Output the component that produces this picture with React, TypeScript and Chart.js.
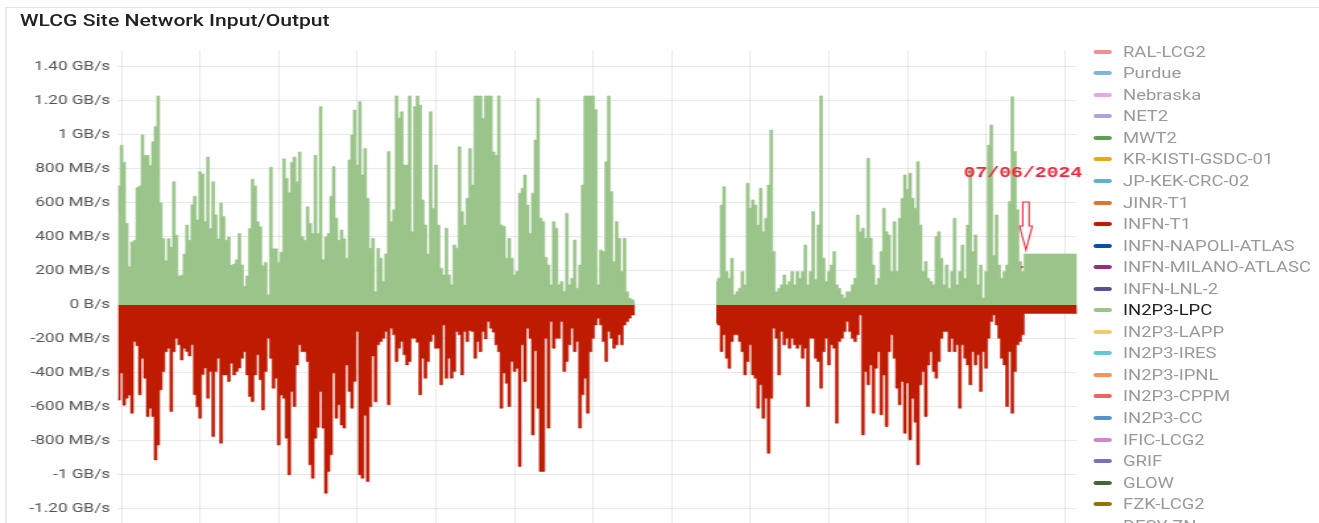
import React, { useEffect, useRef } from 'react';
import { Chart, registerables } from 'chart.js';

Chart.register(...registerables);

// ---------- layout constants (unstretched coordinates; the panel is stretched horizontally) ----------
const STRETCH = 1.319;
const BASE_W = 1000;
const BASE_H = 600;

// ---------- legend ----------
const SITE_NAMES = [
  'RAL-LCG2', 'Purdue', 'Nebraska', 'NET2', 'MWT2', 'KR-KISTI-GSDC-01', 'JP-KEK-CRC-02', 'JINR-T1',
  'INFN-T1', 'INFN-NAPOLI-ATLAS', 'INFN-MILANO-ATLASC', 'INFN-LNL-2', 'IN2P3-LPC', 'IN2P3-LAPP',
  'IN2P3-IRES', 'IN2P3-IPNL', 'IN2P3-CPPM', 'IN2P3-CC', 'IFIC-LCG2', 'GRIF', 'GLOW', 'FZK-LCG2', 'DESY-ZN',
];
const SITE_COLORS = [
  '#F29191', '#82B5D8', '#E5A8E2', '#AEA2E0', '#629E51', '#E5AC0E', '#64B0C8', '#E0752D',
  '#BF1B00', '#0A50A1', '#962D82', '#614D93', '#9AC48A', '#F2C96D',
  '#65C5DB', '#F9934E', '#EA6460', '#5195CE', '#D683CE', '#806EB7', '#3F6833', '#967302', '#2F575E',
];
const ACTIVE_SITE = 'IN2P3-LPC';
const IN_COLOR = '#9AC48A';
const OUT_COLOR = '#BF1B00';

// ---------- data (MB/s per sample) ----------
const SEG_A_START = -2;
const inboundA = [
  560, 700, 940, 840, 480, 225, 370, 380, 690, 700, 1000, 880, 880, 820, 960, 1050, 1230, 600, 390, 260,
  390, 340, 725, 410, 170, 175, 300, 470, 380, 590, 640, 500, 784, 770, 490, 870, 450, 725, 530, 390,
  600, 520, 380, 400, 235, 240, 265, 420, 235, 110, 170, 450, 740, 700, 490, 460, 230, 250, 60, 810,
  330, 330, 250, 310, 860, 745, 660, 840, 870, 725, 900, 402, 380, 578, 480, 420, 880, 420, 1167, 265,
  400, 420, 640, 814, 510, 380, 441, 390, 275, 853, 1000, 1147, 823, 1196, 765, 921, 627, 333, 392, 78,
  333, 275, 137, 300, 902, 490, 560, 1230, 1100, 1137, 823, 823, 1230, 431, 1167, 1230, 1176, 618, 470, 300,
  1137, 569, 823, 470, 216, 176, 451, 176, 118, 353, 333, 931, 549, 470, 627, 921, 706, 1230, 1230, 1230,
  1098, 1230, 1230, 1230, 900, 880, 1230, 470, 461, 275, 392, 275, 176, 196, 657, 686, 765, 588, 420, 657,
  970, 1216, 510, 490, 280, 235, 118, 490, 451, 118, 137, 80, 539, 118, 157, 382, 98, 235, 706, 1230,
  1230, 1230, 1230, 1150, 118, 323, 314, 843, 1230, 667, 255, 490, 392, 196, 392, 78, 39, 30, 20,
];
const outboundA = [
  -560, -560, -400, -590, -549, -530, -637, -216, -240, -529, -314, -431, -657, -608, -657, -912, -824, -500, -392, -275,
  -255, -627, -275, -196, -235, -324, -255, -274, -300, -235, -529, -600, -667, -410, -372, -549, -392, -775, -392, -314,
  -814, -412, -412, -451, -343, -412, -392, -372, -314, -275, -412, -539, -569, -412, -294, -440, -618, -392, -196, -314,
  -490, -431, -824, -530, -549, -784, -1000, -510, -598, -353, -235, -275, -275, -333, -941, -1020, -784, -720, -510, -725,
  -1108, -980, -882, -400, -667, -588, -706, -725, -353, -510, -608, -450, -157, -1000, -1020, -650, -1039, -600, -300, -570,
  -235, -215, -196, -157, -588, -137, -176, -333, -255, -215, -294, -353, -333, -196, -196, -220, -529, -314, -431, -333,
  -215, -176, -255, -255, -470, -118, -431, -314, -431, -392, -157, -176, -412, -157, -216, -150, -157, -314, -216, -275,
  -157, -200, -98, -137, -160, -235, -275, -608, -400, -461, -598, -333, -392, -373, -951, -235, -451, -137, -196, -765,
  -270, -608, -980, -980, -196, -725, -98, -255, -196, -196, -98, -392, -333, -235, -137, -275, -216, -725, -529, -431,
  -637, -275, -196, -118, -78, -118, -216, -333, -157, -196, -255, -235, -176, -235, -118, -98, -78, -59, -59,
];
const SEG_B_START = 227;
const inboundB = [
  137, 157, 588, 696, 196, 157, 275, 60, 78, 98, 196, 118, 716, 570, 618, 588, 470, 686, 431, 510,
  706, 1029, 314, 78, 98, 118, 176, 118, 137, 196, 118, 196, 157, 196, 353, 118, 196, 549, 150, 470,
  1230, 275, 137, 196, 235, 314, 118, 98, 60, 40, 78, 78, 118, 157, 529, 431, 451, 392, 863, 392,
  235, 118, 157, 314, 569, 431, 412, 196, 490, 196, 510, 627, 765, 680, 775, 627, 569, 843, 470, 196,
  255, 157, 137, 118, 402, 431, 275, 118, 235, 98, 196, 510, 118, 196, 353, 157, 470, 804, 314, 412,
  118, 235, 40, 196, 941, 1059, 290, 529, 235, 157, 196, 235, 608, 1225, 902, 560, 255, 196,
];
const outboundB = [
  -108, -118, -275, -176, -314, -373, -216, -176, -176, -216, -275, -412, -333, -235, -412, -431, -608, -470, -667, -550,
  -873, -549, -137, -196, -412, -157, -235, -196, -255, -196, -235, -255, -235, -314, -255, -598, -196, -196, -314, -333,
  -490, -275, -196, -353, -235, -255, -696, -216, -196, -157, -98, -157, -196, -216, -176, -59, -765, -392, -470, -353,
  -637, -373, -275, -647, -412, -716, -275, -176, -314, -490, -588, -451, -755, -460, -794, -550, -690, -941, -470, -392,
  -657, -353, -275, -392, -431, -333, -196, -157, -157, -275, -196, -275, -235, -608, -235, -314, -353, -470, -275, -353,
  -294, -510, -275, -373, -196, -98, -59, -118, -196, -314, -353, -598, -275, -637, -392, -235, -216, -176,
];
const PLATEAU_START = 345;
const inboundPlateau = [300, 300, 300, 300, 300, 300, 300, 300, 300, 300, 300, 300, 300, 300, 300, 300, 300, 300, 300, 300, 300];
const outboundPlateau = [-50, -50, -50, -50, -50, -50, -50, -50, -50, -50, -50, -50, -50, -50, -50, -50, -50, -50, -50, -50, -50];

// axis settings
const X_MIN = -1.34;
const X_MAX = 364.7;
const X_GRID_STEP = 30;
const Y_MIN = -1560;
const Y_MAX = 1500;
const Y_STEP = 200;

// annotation
const MARK_TEXT = '07/06/2024';
const MARK_SAMPLE = 345.2;
const MARK_VALUE = 323;

type Pt = { x: number; y: number | null };

function buildSeries(segments: Array<[number, number[]]>): Pt[] {
  const values = new Map<number, number>();
  let first = Infinity;
  let last = -Infinity;
  for (const [start, vals] of segments) {
    vals.forEach((v, k) => values.set(start + k, v));
    first = Math.min(first, start);
    last = Math.max(last, start + vals.length - 1);
  }
  const pts: Pt[] = [];
  for (let i = first; i <= last; i++) pts.push({ x: i, y: values.has(i) ? (values.get(i) as number) : null });
  return pts;
}

function formatRate(v: number): string {
  if (v === 0) return '0 B/s';
  if (Math.abs(v) >= 1000) {
    const g = v / 1000;
    return (Number.isInteger(g) ? String(g) : g.toFixed(2)) + ' GB/s';
  }
  return v + ' MB/s';
}

const markPlugin = {
  id: 'dateMark',
  afterDatasetsDraw(chart: any) {
    const { ctx, scales } = chart;
    const tx = scales.x.getPixelForValue(MARK_SAMPLE);
    const ty = scales.y.getPixelForValue(MARK_VALUE);
    ctx.save();
    ctx.strokeStyle = '#f0283a';
    ctx.lineWidth = 1.1;
    ctx.fillStyle = 'rgba(255,255,255,0.6)';
    ctx.beginPath();
    ctx.moveTo(tx - 2.4, ty - 48);
    ctx.lineTo(tx + 2.4, ty - 48);
    ctx.lineTo(tx + 2.4, ty - 24);
    ctx.lineTo(tx + 4.8, ty - 24);
    ctx.lineTo(tx, ty);
    ctx.lineTo(tx - 4.8, ty - 24);
    ctx.lineTo(tx - 2.4, ty - 24);
    ctx.closePath();
    ctx.fill();
    ctx.stroke();
    ctx.fillStyle = '#f0283a';
    ctx.fillRect(tx - 3.6, ty + 16, 1.4, 2);
    ctx.font = 'bold 15px "Liberation Mono", monospace';
    ctx.textAlign = 'center';
    ctx.textBaseline = 'alphabetic';
    ctx.fillText(MARK_TEXT, tx - 2.2, ty - 73);
    ctx.restore();
  },
};

export default function App() {
  const canvasRef = useRef<HTMLCanvasElement | null>(null);

  useEffect(() => {
    const canvas = canvasRef.current;
    if (!canvas) return;
    Chart.defaults.font.family = 'Roboto';
    const inPts = buildSeries([
      [SEG_A_START, inboundA],
      [SEG_B_START, inboundB],
      [PLATEAU_START, inboundPlateau],
    ]);
    const outPts = buildSeries([
      [SEG_A_START, outboundA],
      [SEG_B_START, outboundB],
      [PLATEAU_START, outboundPlateau],
    ]);
    const grid = 'rgba(0,0,0,0.085)';
    const chart = new Chart(canvas, {
      type: 'line',
      data: {
        datasets: [
          {
            label: ACTIVE_SITE + ' in',
            data: inPts as any,
            borderColor: IN_COLOR,
            backgroundColor: IN_COLOR,
            borderWidth: 0.6,
            fill: 'origin',
            stepped: 'middle',
            pointRadius: 0,
            spanGaps: false,
          },
          {
            label: ACTIVE_SITE + ' out',
            data: outPts as any,
            borderColor: OUT_COLOR,
            backgroundColor: OUT_COLOR,
            borderWidth: 0.6,
            fill: 'origin',
            stepped: 'middle',
            pointRadius: 0,
            spanGaps: false,
          },
        ],
      },
      options: {
        animation: false,
        responsive: false,
        maintainAspectRatio: false,
        layout: { padding: { left: 0, top: 50, right: BASE_W - 1077 / STRETCH, bottom: 0 } },
        plugins: { legend: { display: false }, tooltip: { enabled: false }, title: { display: false } },
        scales: {
          x: {
            type: 'linear',
            min: X_MIN,
            max: X_MAX,
            border: { display: false },
            grid: { color: grid, drawTicks: false },
            ticks: { display: false, stepSize: X_GRID_STEP, includeBounds: false } as any,
            afterFit: (s: any) => {
              s.height = 30;
            },
          },
          y: {
            type: 'linear',
            min: Y_MIN,
            max: Y_MAX,
            border: { display: false },
            grid: { color: grid, drawTicks: false },
            ticks: {
              stepSize: Y_STEP,
              includeBounds: false,
              padding: 6,
              color: '#555',
              font: { family: 'Roboto', size: 13 },
              callback: (v: any) => formatRate(Number(v)),
            } as any,
            afterFit: (s: any) => {
              s.width = 118 / STRETCH;
            },
          },
        },
      },
      plugins: [markPlugin],
    });
    return () => chart.destroy();
  }, []);

  return (
    <div
      style={{
        position: 'absolute',
        left: 0,
        top: 0,
        width: 1319,
        height: 523,
        overflow: 'hidden',
        background: '#fff',
      }}
    >
      <div
        style={{
          position: 'relative',
          width: BASE_W,
          height: BASE_H,
          transform: `scaleX(${STRETCH})`,
          transformOrigin: '0 0',
        }}
      >
        <div
          style={{
            position: 'absolute',
            left: 5 / STRETCH,
            top: 7,
            right: -10,
            bottom: -10,
            borderLeft: '1px solid #e3e3e3',
            borderTop: '1px solid #e3e3e3',
          }}
        />
        <canvas
          ref={canvasRef}
          width={BASE_W}
          height={BASE_H}
          style={{ position: 'absolute', left: 0, top: 0, width: BASE_W, height: BASE_H, display: 'block' }}
        />
        <div
          style={{
            position: 'absolute',
            left: 20 / STRETCH,
            top: 12.5,
            font: '500 16px Roboto',
            lineHeight: '16px',
            color: '#222',
            whiteSpace: 'nowrap',
          }}
        >
          WLCG Site Network Input/Output
        </div>
        {SITE_NAMES.map((name, k) => (
          <div
            key={name}
            style={{
              position: 'absolute',
              left: 1093 / STRETCH,
              top: 51.7 - 10.8 + k * 21.55,
              height: 21.6,
              display: 'flex',
              alignItems: 'center',
              whiteSpace: 'nowrap',
            }}
          >
            <span
              style={{
                display: 'inline-block',
                width: 19 / STRETCH,
                height: 4,
                borderRadius: 2,
                background: SITE_COLORS[k],
                marginRight: (1123 - 1112) / STRETCH,
              }}
            />
            <span style={{ font: '14px Roboto', color: name === ACTIVE_SITE ? '#222' : '#9a9a9a' }}>{name}</span>
          </div>
        ))}
      </div>
    </div>
  );
}
